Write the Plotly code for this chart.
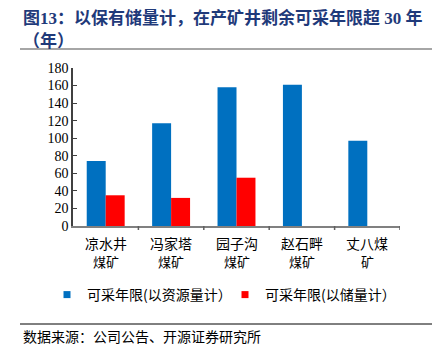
import plotly.graph_objects as go

categories = ["凉水井煤矿", "冯家塔煤矿", "园子沟煤矿", "赵石畔煤矿", "丈八煤矿"]
label_line1 = ["凉水井", "冯家塔", "园子沟", "赵石畔", "丈八煤"]
label_line2 = ["煤矿", "煤矿", "煤矿", "煤矿", "矿"]
resource_years = [74, 117, 158, 161, 97]
reserve_years = [35, 32, 55, None, None]
series_names = ["可采年限(以资源量计）", "可采年限(以储量计）"]
y_ticks = [0, 20, 40, 60, 80, 100, 120, 140, 160, 180]

BLUE = "#0070C0"
RED = "#FF0000"
CJK = "Noto Sans CJK SC"

# page body adds an 8px offset; work in reference pixels and subtract it
OFF = 8
W, H = 443 - OFF, 357 - OFF
PL, PR, PT, PB = 73, 400, 68, 226  # plot area in reference pixels
PW, PH = PR - PL, PB - PT


def px_x(x):
    return (x - PL) / PW


def px_y(y):
    return (PB - y) / PH


fig = go.Figure()
fig.add_trace(go.Bar(x=categories, y=resource_years, marker=dict(color=BLUE, line=dict(width=0)),
                     showlegend=False))
fig.add_trace(go.Bar(x=categories, y=reserve_years, marker=dict(color=RED, line=dict(width=0)),
                     showlegend=False))
fig.add_trace(go.Scatter(x=[None], y=[None], mode="markers", name=series_names[0], legend="legend",
                         marker=dict(symbol="square", size=7, color=BLUE)))
fig.add_trace(go.Scatter(x=[None], y=[None], mode="markers", name=series_names[1], legend="legend2",
                         marker=dict(symbol="square", size=7, color=RED)))

annotations = [
    dict(text="<b>图13：以保有储量计，在产矿井剩余可采年限超 30 年</b>", xref="paper", yref="paper",
         x=px_x(21), y=px_y(18), xanchor="left", yanchor="middle",
         showarrow=False, font=dict(size=17, color="#1F3A7A", family="Liberation Serif, " + CJK)),
    dict(text="<b>（年）</b>", xref="paper", yref="paper",
         x=px_x(21), y=px_y(40), xanchor="left", yanchor="middle",
         showarrow=False, font=dict(size=17, color="#1F3A7A", family=CJK)),
    dict(text="数据来源：公司公告、开源证券研究所", xref="paper", yref="paper",
         x=px_x(21), y=px_y(336), xanchor="left", yanchor="middle",
         showarrow=False, font=dict(size=14, color="#000000", family=CJK)),
]
for cat, l1, l2 in zip(categories, label_line1, label_line2):
    annotations.append(dict(text=l1, xref="x", yref="paper", x=cat, y=px_y(243), xanchor="center",
                            yanchor="middle", showarrow=False, font=dict(size=14, family=CJK, color="#000")))
    annotations.append(dict(text=l2, xref="x", yref="paper", x=cat, y=px_y(262), xanchor="center",
                            yanchor="middle", showarrow=False, font=dict(size=13, family=CJK, color="#000")))

shapes = [
    dict(type="line", xref="paper", yref="paper", x0=px_x(20), x1=px_x(432),
         y0=px_y(49), y1=px_y(49), line=dict(color="#A6A6A6", width=2)),
    dict(type="line", xref="paper", yref="paper", x0=px_x(20), x1=px_x(432),
         y0=px_y(324), y1=px_y(324), line=dict(color="#000000", width=1)),
]
for i in range(1, 6):
    shapes.append(dict(type="line", xref="x", yref="paper", x0=i - 0.5, x1=i - 0.5, y0=0, y1=-4 / PH,
                       line=dict(color="#606060", width=1.5)))

legend_style = dict(orientation="h", yanchor="middle", xanchor="left", itemwidth=30,
                    font=dict(size=14, family=CJK), bgcolor="rgba(0,0,0,0)")

fig.update_layout(
    width=W, height=H,
    margin=dict(l=PL - OFF, r=W - (PR - OFF), t=PT - OFF, b=H - (PB - OFF), autoexpand=False),
    paper_bgcolor="white", plot_bgcolor="white",
    barmode="group", bargap=0.42, bargroupgap=0,
    font=dict(family=CJK, size=14, color="#000000"),
    showlegend=True,
    legend=dict(x=px_x(47), y=px_y(295), **legend_style),
    legend2=dict(x=px_x(225), y=px_y(295), **legend_style),
    xaxis=dict(type="category", showline=True, linecolor="#808080", linewidth=1.5,
               ticks="", showgrid=False, showticklabels=False, range=[-0.5, 4.5]),
    yaxis=dict(range=[0, 180], tickvals=y_ticks, showline=True, linecolor="#404040", linewidth=1.5,
               ticks="inside", ticklen=4, tickcolor="#404040", showgrid=False, zeroline=False,
               tickfont=dict(size=14, family="Liberation Serif")),
    annotations=annotations,
    shapes=shapes,
)

fig.write_html("out.html")
